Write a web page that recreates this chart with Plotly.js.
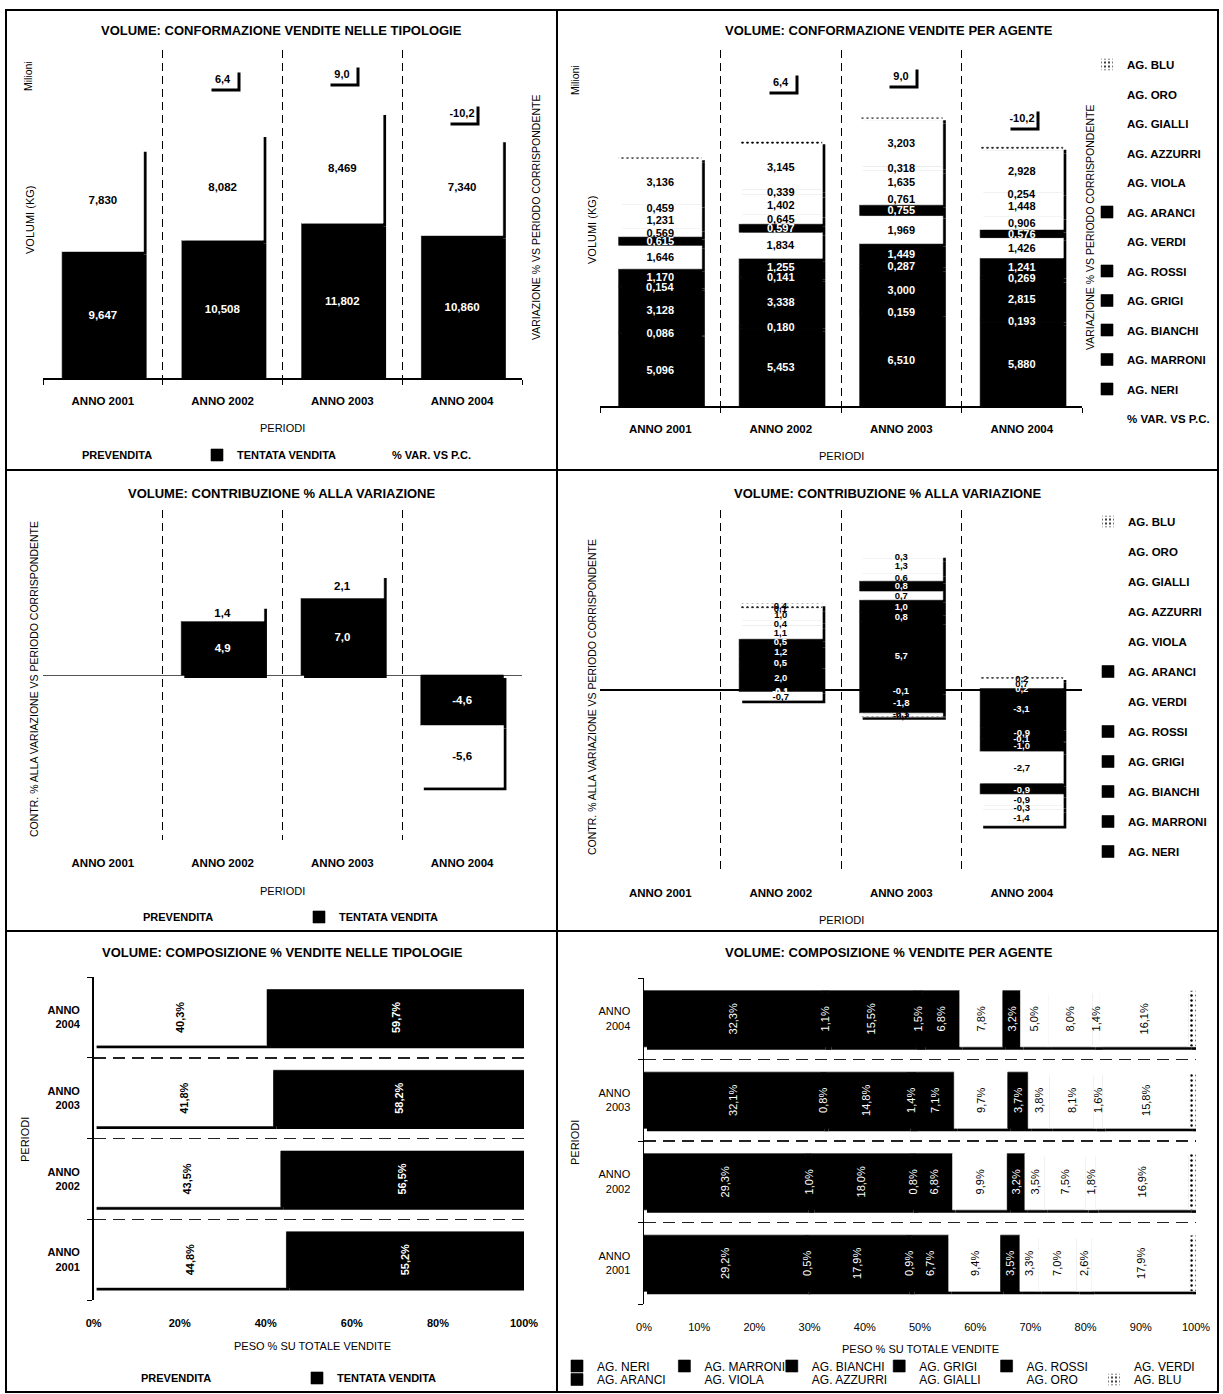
<!DOCTYPE html>
<html><head><meta charset="utf-8">
<script src="https://cdn.plot.ly/plotly-3.0.1.min.js"></script>
<style>html,body{margin:0;padding:0;background:#fff}#chart{width:1223px;height:1394px}</style>
</head><body><div id="chart"></div>
<script>
// ---------------- DATA ----------------
const YEARS = ['ANNO 2001', 'ANNO 2002', 'ANNO 2003', 'ANNO 2004'];
const YEARS_2L = ['ANNO<br>2001', 'ANNO<br>2002', 'ANNO<br>2003', 'ANNO<br>2004'];
const TYPE_NAMES = ['PREVENDITA', 'TENTATA VENDITA'];
const VAR_NAME = '% VAR. VS P.C.';

// volumes (millions of kg)
const VOL_PREVENDITA = [7.830, 8.082, 8.469, 7.340];
const VOL_TENTATA = [9.647, 10.508, 11.802, 10.860];
const VAR_PC = [null, 6.4, 9.0, -10.2];

const AGENTS = ['AG. NERI', 'AG. MARRONI', 'AG. BIANCHI', 'AG. GRIGI', 'AG. ROSSI', 'AG. VERDI',
                'AG. ARANCI', 'AG. VIOLA', 'AG. AZZURRI', 'AG. GIALLI', 'AG. ORO', 'AG. BLU'];
const VOL_NERI    = [5.096, 5.453, 6.510, 5.880];
const VOL_MARRONI = [0.086, 0.180, 0.159, 0.193];
const VOL_BIANCHI = [3.128, 3.338, 3.000, 2.815];
const VOL_GRIGI   = [0.154, 0.141, 0.287, 0.269];
const VOL_ROSSI   = [1.170, 1.255, 1.449, 1.241];
const VOL_VERDI   = [1.646, 1.834, 1.969, 1.426];
const VOL_ARANCI  = [0.615, 0.597, 0.755, 0.576];
const VOL_VIOLA   = [0.569, 0.645, 0.761, 0.906];
const VOL_AZZURRI = [1.231, 1.402, 1.635, 1.448];
const VOL_GIALLI  = [0.459, 0.339, 0.318, 0.254];
const VOL_ORO     = [3.136, 3.145, 3.203, 2.928];
const VOL_BLU     = [0.187, 0.261, 0.225, 0.264];

// contribution % to variation
const CONTR_PREVENDITA = [null, 1.4, 2.1, -5.6];
const CONTR_TENTATA    = [null, 4.9, 7.0, -4.6];
const CONTR_NERI    = [null, 2.04, 5.69, -3.11];
const CONTR_MARRONI = [null, 0.54, -0.11, 0.17];
const CONTR_BIANCHI = [null, 1.20, -1.82, -0.91];
const CONTR_GRIGI   = [null, -0.07, 0.79, -0.09];
const CONTR_ROSSI   = [null, 0.49, 1.04, -1.03];
const CONTR_VERDI   = [null, 1.08, 0.73, -2.68];
const CONTR_ARANCI  = [null, -0.10, 0.85, -0.88];
const CONTR_VIOLA   = [null, 0.43, 0.62, 0.72];
const CONTR_AZZURRI = [null, 0.98, 1.25, -0.92];
const CONTR_GIALLI  = [null, -0.69, -0.11, -0.32];
const CONTR_ORO     = [null, 0.05, 0.31, -1.36];
const CONTR_BLU     = [null, 0.42, -0.19, 0.19];

// composition % of sales
const PCT_PREVENDITA = [44.8, 43.5, 41.8, 40.3];
const PCT_TENTATA    = [55.2, 56.5, 58.2, 59.7];
const PCT_NERI    = [29.2, 29.3, 32.1, 32.3];
const PCT_MARRONI = [0.5, 1.0, 0.8, 1.1];
const PCT_BIANCHI = [17.9, 18.0, 14.8, 15.5];
const PCT_GRIGI   = [0.9, 0.8, 1.4, 1.5];
const PCT_ROSSI   = [6.7, 6.8, 7.1, 6.8];
const PCT_VERDI   = [9.4, 9.9, 9.7, 7.8];
const PCT_ARANCI  = [3.5, 3.2, 3.7, 3.2];
const PCT_VIOLA   = [3.3, 3.5, 3.8, 5.0];
const PCT_AZZURRI = [7.0, 7.5, 8.1, 8.0];
const PCT_GIALLI  = [2.6, 1.8, 1.6, 1.4];
const PCT_ORO     = [17.9, 16.9, 15.8, 16.1];
const PCT_BLU     = [1.1, 1.3, 1.1, 1.3];

// ---------------- STYLE / LAYOUT HELPERS ----------------
const W = 1223, H = 1394;
const FONT = 'Liberation Sans, Arial, sans-serif';
const px2x = p => p / W;
const px2y = p => 1 - p / H;
const IDX = YEARS.map((_, i) => i);
const BOUNDS = [-0.5, 0.5, 1.5, 2.5, 3.5];
const fmt = (v, d) => v.toFixed(d).replace('.', ',');
const F = (size, bold, color) => ({family: FONT, size: size, color: color || '#000', weight: bold ? 'bold' : 'normal'});

const BLACK = {color: '#000000', line: {width: 0.6, color: '#000000'}};
const WHITE = {color: '#ffffff', line: {width: 0.6, color: '#ffffff'}};
const DOTS = {color: '#ffffff', line: {width: 0.6, color: '#ffffff'}, pattern: {shape: '.', fgcolor: '#000', bgcolor: '#fff', size: 5, solidity: 0.2}};
const SHADOW = {color: '#000000', line: {width: 0}};

const AGENT_STYLE = [BLACK, BLACK, BLACK, BLACK, BLACK, WHITE, BLACK, WHITE, WHITE, WHITE, WHITE, DOTS];

// panel boxes in pixels
const PANEL = {
  p1: {x: [43, 522], y: [50, 378]},
  p2: {x: [600, 1082], y: [50, 406]},
  p3: {x: [43, 522], y: [510, 840]},
  p4: {x: [600, 1082], y: [510, 870]},
  p5: {x: [93.6, 524], y: [977, 1300]},
  p6: {x: [644, 1196], y: [978, 1304]}
};
const dom = pn => ({x: [px2x(pn.x[0]), px2x(pn.x[1])], y: [px2y(pn.y[1]), px2y(pn.y[0])]});

function stackBases(list) {
  const n = list[0].length, pos = new Array(n).fill(0), neg = new Array(n).fill(0);
  return list.map(vals => vals.map((v, i) => {
    if (v == null) return null;
    if (v >= 0) { const b = pos[i]; pos[i] += v; return b; }
    const b = neg[i]; neg[i] += v; return b;
  }));
}

const traces = [];
const SH = 3; // shadow offset in px

function addStack(o) {
  const pn = o.panel;
  const bases = stackBases(o.series.map(s => s.vals));
  const horiz = o.horizontal;
  let catPx, valPx;
  if (!horiz) { catPx = (pn.x[1] - pn.x[0]) / 4; valPx = (pn.y[1] - pn.y[0]) / (o.vrange[1] - o.vrange[0]); }
  else { catPx = (pn.y[1] - pn.y[0]) / 4; valPx = (pn.x[1] - pn.x[0]) / (o.vrange[1] - o.vrange[0]); }
  const w = o.width;
  const common = {type: 'bar', xaxis: o.xa, yaxis: o.ya, width: w, hoverinfo: 'skip', orientation: horiz ? 'h' : 'v'};
  const put = (vals, obj) => horiz ? Object.assign(obj, {x: vals, y: IDX}) : Object.assign(obj, {x: IDX, y: vals});
  // shadows (drawn first, only their outer edge stays visible)
  o.series.forEach((s, k) => {
    const b = bases[k].map(v => v == null ? null : (horiz ? v + SH / valPx : v - SH / valPx));
    traces.push(put(s.vals, Object.assign({}, common, {
      base: b, offset: horiz ? -w / 2 - SH / catPx : -w / 2 + SH / catPx,
      marker: SHADOW, showlegend: false, name: s.name + ' ombra'
    })));
  });
  // fills
  o.series.forEach((s, k) => {
    traces.push(put(s.vals, Object.assign({}, common, {
      base: bases[k], offset: -w / 2, marker: s.marker, name: s.name,
      showlegend: true, legend: s.legend, legendgroup: s.legend + s.name, legendrank: s.rank
    })));
  });
  // labels (on top of every bar)
  o.series.forEach((s, k) => {
    if (!s.showText) return;
    traces.push(put(s.vals, Object.assign({}, common, {
      base: bases[k], offset: -w / 2, marker: {color: 'rgba(0,0,0,0)', line: {width: 0}},
      text: s.vals.map(v => v == null ? '' : fmt(v, o.digits) + (o.suffix || '')),
      textposition: 'inside', insidetextanchor: 'middle', constraintext: 'none',
      textangle: horiz ? -90 : 0, insidetextfont: F(o.fontSize, o.bold, s.textColor),
      showlegend: false, name: s.name + ' etichetta', cliponaxis: false
    })));
  });
}

const isBlack = m => m === BLACK;

// Panel 1: volumes by type
addStack({panel: PANEL.p1, xa: 'x', ya: 'y', vrange: [0, 25], width: 0.68, digits: 3, fontSize: 11.5, bold: true,
  series: [
    {name: TYPE_NAMES[1], vals: VOL_TENTATA, marker: BLACK, textColor: '#fff', showText: true, legend: 'legend', rank: 2},
    {name: TYPE_NAMES[0], vals: VOL_PREVENDITA, marker: WHITE, textColor: '#000', showText: true, legend: 'legend', rank: 1}
  ]});
traces.push({type: 'scatter', mode: 'markers', x: IDX, y: VAR_PC, xaxis: 'x', yaxis: 'y2', name: VAR_NAME,
  marker: {color: 'rgba(0,0,0,0)', size: 2}, legend: 'legend', legendrank: 3, hoverinfo: 'skip'});

// Panel 2: volumes by agent
const VOL_AGENTS = [VOL_NERI, VOL_MARRONI, VOL_BIANCHI, VOL_GRIGI, VOL_ROSSI, VOL_VERDI, VOL_ARANCI, VOL_VIOLA, VOL_AZZURRI, VOL_GIALLI, VOL_ORO, VOL_BLU];
addStack({panel: PANEL.p2, xa: 'x2', ya: 'y3', vrange: [0, 25], width: 0.69, digits: 3, fontSize: 11, bold: true,
  series: AGENTS.map((a, k) => ({name: a, vals: VOL_AGENTS[k], marker: AGENT_STYLE[k],
    textColor: isBlack(AGENT_STYLE[k]) ? '#fff' : '#000', showText: k < 11, legend: 'legend2', rank: 12 - k}))});
traces.push({type: 'scatter', mode: 'markers', x: IDX, y: VAR_PC, xaxis: 'x2', yaxis: 'y4', name: VAR_NAME,
  marker: {color: 'rgba(0,0,0,0)', size: 2}, legend: 'legend2', legendgroup: 'l2var', legendrank: 13, hoverinfo: 'skip'});

// Panel 3: contribution by type
addStack({panel: PANEL.p3, xa: 'x3', ya: 'y5', vrange: [-15, 15], width: 0.69, digits: 1, fontSize: 11.5, bold: true,
  series: [
    {name: TYPE_NAMES[1], vals: CONTR_TENTATA, marker: BLACK, textColor: '#fff', showText: true, legend: 'legend3', rank: 2},
    {name: TYPE_NAMES[0], vals: CONTR_PREVENDITA, marker: WHITE, textColor: '#000', showText: true, legend: 'legend3', rank: 1}
  ]});

// Panel 4: contribution by agent
const CONTR_AGENTS = [CONTR_NERI, CONTR_MARRONI, CONTR_BIANCHI, CONTR_GRIGI, CONTR_ROSSI, CONTR_VERDI, CONTR_ARANCI, CONTR_VIOLA, CONTR_AZZURRI, CONTR_GIALLI, CONTR_ORO, CONTR_BLU];
addStack({panel: PANEL.p4, xa: 'x4', ya: 'y6', vrange: [-15, 15], width: 0.69, digits: 1, fontSize: 9.5, bold: true,
  series: AGENTS.map((a, k) => ({name: a, vals: CONTR_AGENTS[k], marker: AGENT_STYLE[k],
    textColor: isBlack(AGENT_STYLE[k]) ? '#fff' : '#000', showText: true, legend: 'legend4', rank: 12 - k}))});

// Panel 5: composition by type (horizontal 100%)
addStack({panel: PANEL.p5, xa: 'x5', ya: 'y7', vrange: [0, 100], width: 0.69, digits: 1, suffix: '%', fontSize: 11, bold: true, horizontal: true,
  series: [
    {name: TYPE_NAMES[0], vals: PCT_PREVENDITA, marker: WHITE, textColor: '#000', showText: true, legend: 'legend5', rank: 1},
    {name: TYPE_NAMES[1], vals: PCT_TENTATA, marker: BLACK, textColor: '#fff', showText: true, legend: 'legend5', rank: 2}
  ]});

// Panel 6: composition by agent
const PCT_AGENTS = [PCT_NERI, PCT_MARRONI, PCT_BIANCHI, PCT_GRIGI, PCT_ROSSI, PCT_VERDI, PCT_ARANCI, PCT_VIOLA, PCT_AZZURRI, PCT_GIALLI, PCT_ORO, PCT_BLU];
addStack({panel: PANEL.p6, xa: 'x6', ya: 'y8', vrange: [0, 100], width: 0.69, digits: 1, suffix: '%', fontSize: 11, bold: false, horizontal: true,
  series: AGENTS.map((a, k) => ({name: a, vals: PCT_AGENTS[k], marker: AGENT_STYLE[k],
    textColor: isBlack(AGENT_STYLE[k]) ? '#fff' : '#000', showText: k < 11, legend: k < 6 ? 'legend6' : 'legend7', rank: k + 1}))});

// ---------------- AXES ----------------
function vX(pn, anchor, line, standoff) {
  const d = dom(pn);
  return {domain: d.x, anchor: anchor, range: [-0.5, 3.5], tickmode: 'array', tickvals: IDX, ticktext: YEARS,
    ticks: '', showgrid: false, zeroline: false, showline: line, linecolor: '#000', linewidth: 1.5,
    tickfont: F(11.5, true), ticklabelstandoff: standoff, fixedrange: true,
    minor: {tickmode: 'array', tickvals: BOUNDS, showgrid: true, gridcolor: '#000', gridwidth: 1, griddash: '8px,5px',
      ticks: line ? 'outside' : '', ticklen: 5, tickcolor: '#000', tickwidth: 1}};
}
function hY(pn, anchor, bold) {
  const d = dom(pn);
  return {domain: d.y, anchor: anchor, range: [-0.5, 3.5], tickmode: 'array', tickvals: IDX, ticktext: YEARS_2L,
    ticks: '', showgrid: false, zeroline: false, showline: true, linecolor: '#000', linewidth: 1.5,
    tickfont: F(11, bold), ticklabelstandoff: 10, fixedrange: true,
    minor: {tickmode: 'array', tickvals: BOUNDS, showgrid: true, gridcolor: '#222', gridwidth: 1.5, griddash: '12px,7px',
      ticks: 'outside', ticklen: 5, tickcolor: '#000', tickwidth: 1}};
}
function hX(pn, anchor, dt, bold) {
  const d = dom(pn);
  return {domain: d.x, anchor: anchor, range: [0, 100], tickmode: 'linear', tick0: 0, dtick: dt, ticksuffix: '%',
    ticks: '', showgrid: false, zeroline: false, showline: false, tickfont: F(11, bold), ticklabelstandoff: 15, fixedrange: true};
}

const LEG = (o) => Object.assign({bgcolor: 'rgba(0,0,0,0)', xanchor: 'left'}, o);

const layout = {
  width: W, height: H, margin: {l: 0, r: 0, t: 0, b: 0, autoexpand: false},
  paper_bgcolor: '#ffffff', plot_bgcolor: 'rgba(0,0,0,0)', barmode: 'overlay', separators: ',.',
  font: {family: FONT, color: '#000'}, showlegend: true, hovermode: false,
  xaxis: vX(PANEL.p1, 'y', true, 12),
  yaxis: {domain: dom(PANEL.p1).y, anchor: 'x', range: [0, 25], visible: false, fixedrange: true},
  yaxis2: {overlaying: 'y', anchor: 'x', side: 'right', range: [-142, 21], visible: false, fixedrange: true},
  xaxis2: vX(PANEL.p2, 'y3', true, 12),
  yaxis3: {domain: dom(PANEL.p2).y, anchor: 'x2', range: [0, 25], visible: false, fixedrange: true},
  yaxis4: {overlaying: 'y3', anchor: 'x2', side: 'right', range: [-142, 21], visible: false, fixedrange: true},
  xaxis3: vX(PANEL.p3, 'y5', false, 14),
  yaxis5: {domain: dom(PANEL.p3).y, anchor: 'x3', range: [-15, 15], showticklabels: false, ticks: '', showgrid: false,
    zeroline: true, zerolinecolor: '#555', zerolinewidth: 1, showline: false, fixedrange: true},
  xaxis4: vX(PANEL.p4, 'y6', false, 14),
  yaxis6: {domain: dom(PANEL.p4).y, anchor: 'x4', range: [-15, 15], showticklabels: false, ticks: '', showgrid: false,
    zeroline: true, zerolinecolor: '#000', zerolinewidth: 2.5, showline: false, fixedrange: true},
  xaxis5: hX(PANEL.p5, 'y7', 20, true),
  yaxis7: hY(PANEL.p5, 'x5', true),
  xaxis6: hX(PANEL.p6, 'y8', 10, false),
  yaxis8: hY(PANEL.p6, 'x6', false),
  legend:  LEG({orientation: 'h', x: px2x(42), y: px2y(455), yanchor: 'middle', entrywidth: 110, font: F(11, true), traceorder: 'normal'}),
  legend2: LEG({orientation: 'v', x: px2x(1087), y: px2y(50), yanchor: 'top', tracegroupgap: 10.5, font: F(11.5, true), traceorder: 'grouped'}),
  legend3: LEG({orientation: 'h', x: px2x(103), y: px2y(917), yanchor: 'middle', entrywidth: 151, font: F(11, true), traceorder: 'normal'}),
  legend4: LEG({orientation: 'v', x: px2x(1088), y: px2y(507), yanchor: 'top', tracegroupgap: 11, font: F(11.5, true), traceorder: 'grouped'}),
  legend5: LEG({orientation: 'h', x: px2x(101), y: px2y(1378), yanchor: 'middle', entrywidth: 151, font: F(11, true), traceorder: 'normal'}),
  legend6: LEG({orientation: 'h', x: px2x(557), y: px2y(1366), yanchor: 'middle', entrywidth: 62.4, font: F(12, false), traceorder: 'normal'}),
  legend7: LEG({orientation: 'h', x: px2x(557), y: px2y(1379.5), yanchor: 'middle', entrywidth: 62.4, font: F(12, false), traceorder: 'normal'}),
  annotations: [],
  shapes: []
};

// ---------------- TEXT (titles, axis titles) ----------------
function txt(text, x, y, font, angle) {
  layout.annotations.push({text: text, x: px2x(x), y: px2y(y), xref: 'paper', yref: 'paper', showarrow: false,
    xanchor: 'center', yanchor: 'middle', font: font, textangle: angle || 0});
}
const TF = F(13, true);
txt('VOLUME: CONFORMAZIONE VENDITE NELLE TIPOLOGIE', 281, 31, TF);
txt('VOLUME: CONFORMAZIONE VENDITE PER AGENTE', 889, 31, TF);
txt('VOLUME: CONTRIBUZIONE % ALLA VARIAZIONE', 282, 493, TF);
txt('VOLUME: CONTRIBUZIONE % ALLA VARIAZIONE', 888, 493, TF);
txt('VOLUME: COMPOSIZIONE % VENDITE NELLE TIPOLOGIE', 282, 953, TF);
txt('VOLUME: COMPOSIZIONE % VENDITE PER AGENTE', 889, 953, TF);
const AF = F(11, false);
txt('PERIODI', 282, 428, AF);
txt('PERIODI', 841, 456, AF);
txt('PERIODI', 282, 891, AF);
txt('PERIODI', 841, 920, AF);
txt('PESO % SU TOTALE VENDITE', 312, 1346, AF);
txt('PESO % SU TOTALE VENDITE', 920, 1349, AF);
txt('VOLUMI (KG)', 30, 220, AF, -90);
txt('Milioni', 28, 76, F(10.5, false), -90);
txt('VARIAZIONE % VS PERIODO CORRISPONDENTE', 536, 218, F(10.5, false), -90);
txt('VOLUMI (KG)', 592, 230, AF, -90);
txt('Milioni', 575, 80, F(10.5, false), -90);
txt('VARIAZIONE % VS PERIODO CORRISPONDENTE', 1090, 228, F(10.5, false), -90);
txt('CONTR. % ALLA VARIAZIONE VS PERIODO CORRISPONDENTE', 34, 679, F(10.5, false), -90);
txt('CONTR. % ALLA VARIAZIONE VS PERIODO CORRISPONDENTE', 592, 697, F(10.5, false), -90);
txt('PERIODI', 25, 1140, AF, -90);
txt('PERIODI', 575, 1143, AF, -90);

// % VAR labels (white boxes with shadow), placed through the secondary axes
function varLabels(xa, ya) {
  VAR_PC.forEach((v, i) => {
    if (v == null) return;
    const base = {x: i, y: v, xref: xa, yref: ya, showarrow: false, width: 26, height: 16,
      xanchor: 'center', yanchor: 'middle', font: F(11, true)};
    layout.annotations.push(Object.assign({}, base, {text: '\u00a0', bgcolor: '#000', xshift: SH, yshift: -SH}));
    layout.annotations.push(Object.assign({}, base, {text: fmt(v, 1), bgcolor: '#fff'}));
  });
}
varLabels('x', 'y2');
varLabels('x2', 'y4');

// ---------------- PANEL BORDERS ----------------
const LINE = {color: '#000', width: 2};
layout.shapes.push({type: 'rect', xref: 'paper', yref: 'paper', x0: px2x(6), x1: px2x(1218), y0: px2y(1392), y1: px2y(10), line: LINE});
layout.shapes.push({type: 'line', xref: 'paper', yref: 'paper', x0: px2x(557), x1: px2x(557), y0: px2y(1392), y1: px2y(10), line: LINE});
layout.shapes.push({type: 'line', xref: 'paper', yref: 'paper', x0: px2x(6), x1: px2x(1218), y0: px2y(470), y1: px2y(470), line: LINE});
layout.shapes.push({type: 'line', xref: 'paper', yref: 'paper', x0: px2x(6), x1: px2x(1218), y0: px2y(931), y1: px2y(931), line: LINE});

Plotly.newPlot('chart', traces, layout, {displayModeBar: false, staticPlot: true});
</script>
</body></html>
